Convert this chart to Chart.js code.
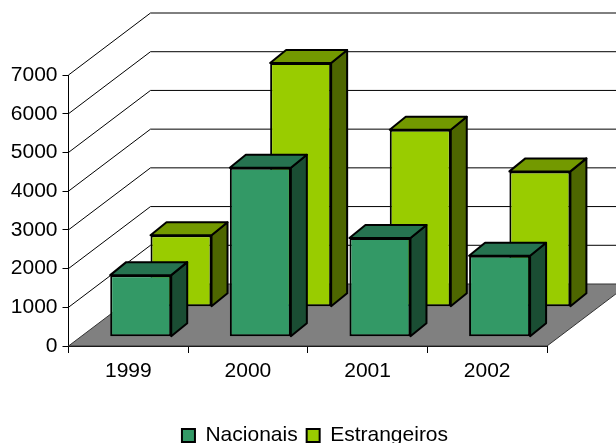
<!DOCTYPE html>
<html>
<head>
<meta charset="utf-8">
<title>Nacionais e Estrangeiros</title>
<script src="https://cdn.jsdelivr.net/npm/chart.js@4"></script>
<style>
    html, body { margin: 0; padding: 0; background: #fff; overflow: hidden; }
    canvas { display: block; }
</style>
</head>
<body>
<canvas id="barChart" width="616" height="443"></canvas>
<script>
var categories = ['1999', '2000', '2001', '2002'];
var nacionais = [1590, 4365, 2550, 2090];
var estrangeiros = [1845, 6295, 4570, 3495];

// how far the back wall sits from the front of the floor
var wallDepth = { x: 82, y: -62 };
// shift of each series into the depth, and the thickness of the boxes
var seriesShift = [{ x: 12.4, y: -9.3 }, { x: 52.7, y: -39.3 }];
var boxDepth = { x: 16, y: -13 };
var topColors = ['#267350', '#739900'];
var sideColors = ['#1a4d33', '#4d6600'];

function fillFace(ctx, points, color) {
    ctx.beginPath();
    ctx.moveTo(points[0][0], points[0][1]);
    for (var i = 1; i < points.length; i++) {
        ctx.lineTo(points[i][0], points[i][1]);
    }
    ctx.closePath();
    ctx.fillStyle = color;
    ctx.fill();
    ctx.stroke();
}

var depthPlugin = {
    id: 'depth',
    afterLayout: function (chart) {
        // the legend is centred on the whole picture, not on the plot, and sits at the very bottom
        chart.legend.left = 7;
        chart.legend.right = 623;
        chart.legend.top += 13;
        chart.legend.bottom += 13;
    },
    beforeDatasetsDraw: function (chart) {
        var ctx = chart.ctx;
        var area = chart.chartArea;
        var y = chart.scales.y;
        ctx.save();

        // floor
        ctx.strokeStyle = '#333';
        ctx.lineWidth = 1;
        fillFace(ctx, [
            [area.left, area.bottom],
            [area.right, area.bottom],
            [area.right + wallDepth.x, area.bottom + wallDepth.y],
            [area.left + wallDepth.x, area.bottom + wallDepth.y]
        ], '#808080');

        // grid lines on the side wall and the back wall
        ctx.strokeStyle = '#000';
        y.ticks.forEach(function (tick) {
            if (tick.value === 0) return;
            var py = y.getPixelForValue(tick.value);
            ctx.beginPath();
            ctx.moveTo(area.left, py);
            ctx.lineTo(area.left + wallDepth.x, py + wallDepth.y);
            ctx.lineTo(area.right + wallDepth.x, py + wallDepth.y);
            ctx.stroke();
        });
        ctx.restore();
    },
    beforeDatasetDraw: function (chart, args) {
        var ctx = chart.ctx;
        var shift = seriesShift[args.index];
        ctx.save();
        ctx.translate(shift.x, shift.y);
        ctx.strokeStyle = '#000';
        ctx.lineWidth = 2;
        ctx.lineJoin = 'round';
        args.meta.data.forEach(function (bar) {
            var left = bar.x - bar.width / 2;
            var right = bar.x + bar.width / 2;
            fillFace(ctx, [
                [right, bar.y],
                [right + boxDepth.x, bar.y + boxDepth.y],
                [right + boxDepth.x, bar.base + boxDepth.y],
                [right, bar.base]
            ], sideColors[args.index]);
            fillFace(ctx, [
                [left, bar.y],
                [left + boxDepth.x, bar.y + boxDepth.y],
                [right + boxDepth.x, bar.y + boxDepth.y],
                [right, bar.y]
            ], topColors[args.index]);
        });
    },
    afterDatasetDraw: function (chart) {
        chart.ctx.restore();
    }
};

var tickFont = { family: '"Liberation Sans", Arial, sans-serif', size: 21 };
var legendFont = { family: '"Liberation Sans", Arial, sans-serif', size: 21 };

var ctx = document.getElementById('barChart').getContext('2d');

var barChart = new Chart(ctx, {
    type: 'bar',
    data: {
        labels: categories,
        datasets: [{
            label: 'Nacionais',
            data: nacionais,
            backgroundColor: '#339966',
            borderColor: '#000',
            borderWidth: 2,
            borderSkipped: false,
            grouped: false,
            clip: false,
            order: 0
        }, {
            label: 'Estrangeiros',
            data: estrangeiros,
            backgroundColor: '#99cc00',
            borderColor: '#000',
            borderWidth: 2,
            borderSkipped: false,
            grouped: false,
            clip: false,
            order: 1
        }]
    },
    options: {
        responsive: false,
        animation: false,
        barPercentage: 0.51,
        categoryPercentage: 1,
        layout: { padding: { top: 75, right: 69, bottom: 0, left: 0 } },
        scales: {
            x: {
                afterFit: function (scale) { scale.height = 57; },
                grid: { drawOnChartArea: false, tickLength: 7, color: '#000' },
                border: { color: '#000' },
                ticks: { color: '#000', font: tickFont, maxRotation: 0, padding: 6 }
            },
            y: {
                min: 0,
                max: 7000,
                afterFit: function (scale) { scale.width = 68.5; },
                grid: { drawOnChartArea: false, tickLength: 6, color: '#000' },
                border: { color: '#000' },
                ticks: {
                    color: '#000',
                    font: tickFont,
                    stepSize: 1000,
                    padding: 5,
                    callback: function (value) { return String(value); }
                }
            }
        },
        plugins: {
            tooltip: { enabled: false },
            legend: {
                position: 'bottom',
                labels: {
                    color: '#000',
                    font: legendFont,
                    boxWidth: 13,
                    boxHeight: 13,
                    padding: 9
                }
            }
        }
    },
    plugins: [depthPlugin]
});
</script>
</body>
</html>
